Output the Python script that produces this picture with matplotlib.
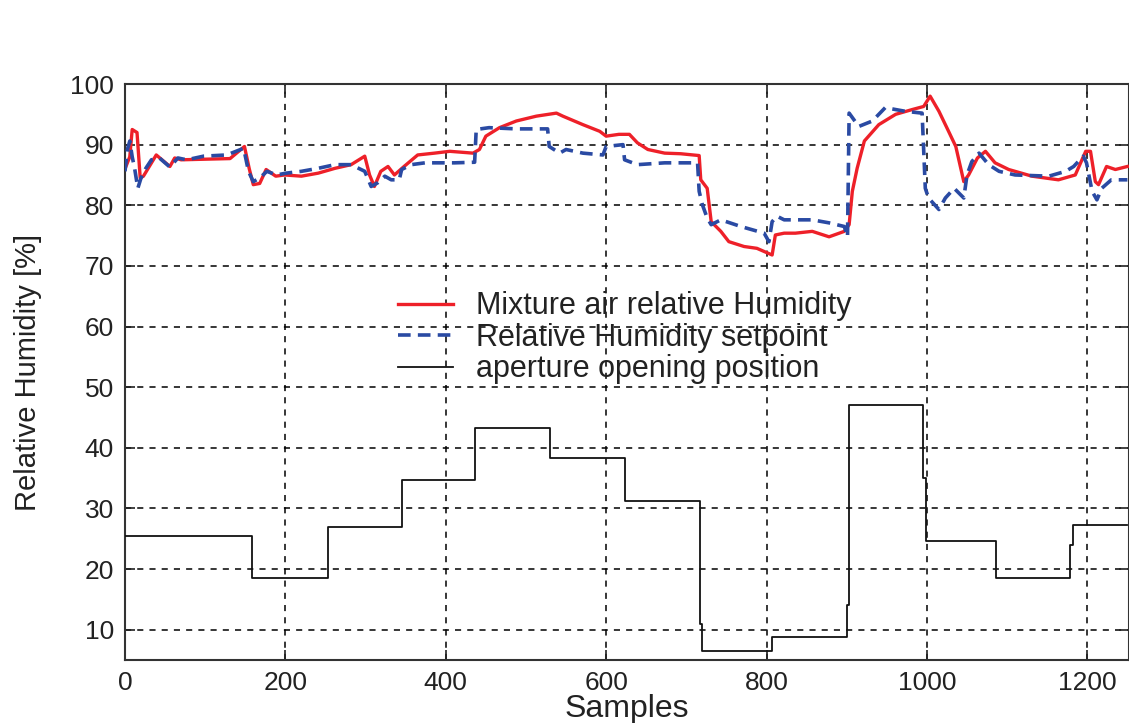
import matplotlib
matplotlib.use("Agg")
import matplotlib.pyplot as plt
import numpy as np

# Mixture air relative humidity (red)
rh_samples = [0, 6, 9, 15, 19, 23, 39, 56, 62, 70, 100, 131, 149, 155, 160, 168, 176,
              188, 199, 220, 241, 262, 282, 299, 305, 311, 319, 328, 336, 348, 365,
              386, 405, 434, 442, 450, 467, 488, 513, 538, 546, 571, 592, 600, 616,
              629, 639, 652, 673, 693, 716, 718, 726, 731, 743, 753, 772, 788, 807,
              811, 822, 836, 857, 878, 897, 903, 907, 913, 922, 940, 961, 982, 996,
              1004, 1015, 1027, 1036, 1046, 1052, 1063, 1073, 1085, 1102, 1131, 1164,
              1185, 1198, 1204, 1210, 1214, 1224, 1235, 1250]
rh_values = [86.0, 88.0, 92.5, 92.0, 84.5, 84.8, 88.3, 86.4, 87.8, 87.5, 87.6, 87.7, 89.7,
             86.0, 83.4, 83.6, 85.9, 84.8, 85.0, 84.8, 85.3, 86.1, 86.7, 88.1, 85.0,
             83.1, 85.6, 86.4, 85.0, 86.4, 88.3, 88.6, 88.9, 88.6, 89.2, 91.4, 92.8,
             93.9, 94.7, 95.2, 94.7, 93.3, 92.2, 91.4, 91.7, 91.7, 90.3, 89.2, 88.6,
             88.5, 88.2, 84.2, 82.8, 77.3, 75.7, 74.0, 73.2, 72.9, 71.8, 75.1, 75.4,
             75.4, 75.7, 74.8, 75.7, 76.8, 82.3, 86.1, 90.6, 93.3, 95.0, 95.8, 96.3,
             98.0, 95.5, 92.2, 89.7, 83.9, 85.0, 87.8, 88.9, 87.0, 85.9, 84.8, 84.2,
             85.0, 88.9, 88.9, 83.9, 83.4, 86.4, 85.9, 86.4]

# Relative humidity setpoint (blue dashed)
sp_samples = [0, 3, 6, 9, 12, 16, 20, 26, 33, 43, 56, 66, 77, 98, 127, 148, 154, 160,
              168, 177, 189, 201, 220, 241, 262, 282, 299, 307, 315, 324, 332, 342,
              345, 357, 374, 390, 411, 436, 438, 454, 488, 527, 529, 542, 550, 571,
              596, 600, 621, 623, 639, 673, 714, 716, 720, 726, 731, 743, 768, 797,
              803, 807, 813, 822, 857, 878, 897, 901, 903, 915, 932, 948, 973, 994,
              998, 1002, 1015, 1023, 1034, 1046, 1050, 1056, 1065, 1077, 1090, 1110,
              1152, 1173, 1183, 1195, 1199, 1206, 1212, 1218, 1230, 1250]
sp_values = [85.6, 89.2, 90.6, 88.0, 86.1, 82.8, 84.5, 86.1, 87.5, 87.8, 86.3, 87.8,
             87.5, 88.1, 88.3, 89.4, 85.6, 83.9, 84.5, 85.6, 85.0, 85.3, 85.6, 86.1,
             86.7, 86.7, 85.6, 83.1, 83.7, 84.8, 84.2, 84.2, 85.9, 86.7, 87.0, 87.0,
             87.0, 87.1, 92.5, 92.8, 92.6, 92.6, 89.7, 88.6, 89.2, 88.6, 88.3, 89.7,
             90.0, 87.5, 86.7, 87.0, 87.0, 82.3, 80.1, 77.9, 76.8, 77.6, 76.5, 75.4,
             74.0, 77.3, 78.2, 77.6, 77.6, 77.1, 76.5, 74.8, 95.2, 93.0, 93.9, 96.1,
             95.5, 95.2, 82.8, 81.2, 79.3, 81.2, 82.8, 81.2, 85.0, 87.2, 88.6, 86.7,
             85.6, 85.0, 84.8, 85.6, 86.4, 88.1, 87.0, 82.3, 80.9, 82.8, 84.2, 84.2]

# Aperture opening position (black steps)
ap_samples = [0, 158, 253, 345, 437, 530, 623, 717, 720, 807, 900, 903, 995, 999,
              1086, 1179, 1182, 1250]
ap_values = [25.5, 18.5, 27.0, 34.7, 43.3, 38.3, 31.2, 11.0, 6.5, 8.8, 14.0, 47.0,
             35.0, 24.7, 18.6, 24.0, 27.2, 27.2]

x_ticks = [0, 200, 400, 600, 800, 1000, 1200]
y_ticks = [10, 20, 30, 40, 50, 60, 70, 80, 90, 100]

plt.rcParams["font.family"] = ["Liberation Sans", "DejaVu Sans"]

fig = plt.figure(figsize=(11.29, 7.23), dpi=100)
ax = fig.add_axes([0.1107, 0.0871, 0.8893, 0.7967])

ax.plot(rh_samples, rh_values, color="#ee2029", lw=2.4,
        label="Mixture air relative Humidity", zorder=3)
ax.plot(sp_samples, sp_values, color="#2a4aa3", lw=2.6, dashes=(3.5, 2),
        label="Relative Humidity setpoint", zorder=4)
ax.step(ap_samples, ap_values, where="post", color="#111111", lw=1.3,
        label="aperture opening position", zorder=3)

ax.set_xlim(0, 1252)
ax.set_ylim(5, 100)
ax.set_xticks(x_ticks)
ax.set_yticks(y_ticks)
ax.grid(True, color="black", linestyle=(0, (4, 4)), linewidth=1.1)
ax.tick_params(direction="in", length=7, width=1.2, top=True, right=True,
               labelsize=19, colors="#222222", pad=8)
for sp in ax.spines.values():
    sp.set_linewidth(1.5)
    sp.set_color("#333333")

ax.set_xlabel("Samples", fontsize=23, color="#222222", labelpad=-1)
ax.set_ylabel("Relative Humidity [%]", fontsize=21, color="#222222", labelpad=20)

leg = ax.legend(loc="upper left", bbox_to_anchor=(0.272, 0.64), frameon=False,
                fontsize=22, handlelength=1.8, handletextpad=0.75,
                labelspacing=0.05, borderpad=0, borderaxespad=0)
for t in leg.get_texts():
    t.set_color("#222222")

fig.savefig("out.png", dpi=100)
